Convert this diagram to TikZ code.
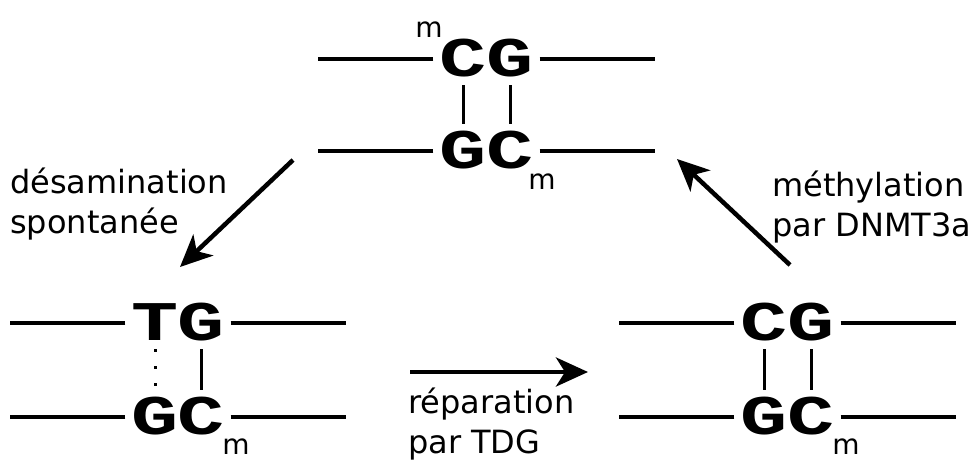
\documentclass[tikz,border=0pt]{standalone}
\usepackage{fontspec}
\setmainfont{DejaVu Sans}
\newfontfamily\basefont[FakeStretch=1.4]{Liberation Mono}
\usetikzlibrary{arrows.meta}

\tikzset{
  base/.style={font=\basefont\bfseries\fontsize{56}{56}\selectfont, inner sep=0pt, text height=34pt, text depth=0pt},
  strand/.style={line width=4pt},
  bond/.style={line width=3pt, shorten <=9pt, shorten >=10pt},
  hbond/.style={bond, dash pattern=on 3pt off 14pt},
  methyl/.style={font=\fontsize{28}{28}\selectfont, inner sep=0pt},
  txt/.style={font=\fontsize{32}{40}\selectfont, align=left, inner sep=0pt},
  react/.style={line width=4.5pt, ->}
}

\begin{document}
\begin{tikzpicture}[x=1pt, y=-1pt, >={Stealth[length=32pt, width=29pt, inset=9pt]}]
\useasboundingbox (0,0) rectangle (971,460);
% CpG methyle (haut)
\node[base] (tc1) at (463,59) {C};
\node[base] (tg1) at (510,59) {G};
\node[base] (tg2) at (463,151) {G};
\node[base] (tc2) at (510,151) {C};
\node[methyl] (tm1) at (429,30) {m};
\node[methyl] (tm2) at (542,182) {m};
\draw[strand] ([xshift=-6]tc1.west) -- ++(-115,0);
\draw[strand] ([xshift=6]tg1.east) -- ++(115,0);
\draw[strand] ([xshift=-6]tg2.west) -- ++(-115,0);
\draw[strand] ([xshift=6]tc2.east) -- ++(115,0);
\draw[bond] (tc1) -- (tg2);
\draw[bond] (tg1) -- (tc2);

% TpG mesappariement (bas gauche)
\node[base] (lt1) at (155,323) {T};
\node[base] (lg1) at (201,323) {G};
\node[base] (lg2) at (155,417) {G};
\node[base] (lc2) at (201,417) {C};
\node[methyl] (lm2) at (236,447) {m};
\draw[strand] ([xshift=-6]lt1.west) -- ++(-115,0);
\draw[strand] ([xshift=6]lg1.east) -- ++(115,0);
\draw[strand] ([xshift=-6]lg2.west) -- ++(-115,0);
\draw[strand] ([xshift=6]lc2.east) -- ++(115,0);
\draw[hbond] (lt1) -- (lg2);
\draw[bond] (lg1) -- (lc2);

% CpG hemi-methyle (bas droite)
\node[base] (rc1) at (764,323) {C};
\node[base] (rg1) at (811,323) {G};
\node[base] (rg2) at (764,417) {G};
\node[base] (rc2) at (811,417) {C};
\node[methyl] (rm2) at (846,447) {m};
\draw[strand] ([xshift=-6]rc1.west) -- ++(-115,0);
\draw[strand] ([xshift=6]rg1.east) -- ++(115,0);
\draw[strand] ([xshift=-6]rg2.west) -- ++(-115,0);
\draw[strand] ([xshift=6]rc2.east) -- ++(115,0);
\draw[bond] (rc1) -- (rg2);
\draw[bond] (rg1) -- (rc2);

% reactions
\coordinate (deamA) at (293,160);
\coordinate (deamB) at (180,267);
\coordinate (repA) at (410,372);
\coordinate (repB) at (588,372);
\coordinate (methA) at (790,265);
\coordinate (methB) at (677,159);
\draw[react] (deamA) -- (deamB);
\draw[react] (repA) -- (repB);
\draw[react] (methA) -- (methB);
\node[txt, anchor=base west] (deam) at (10,233) {désamination\\spontanée};
\node[txt, anchor=base west] (rep) at (408,453) {réparation\\par TDG};
\node[txt, anchor=base west] (meth) at (772,236) {méthylation\\par DNMT3a};
\end{tikzpicture}
\end{document}
